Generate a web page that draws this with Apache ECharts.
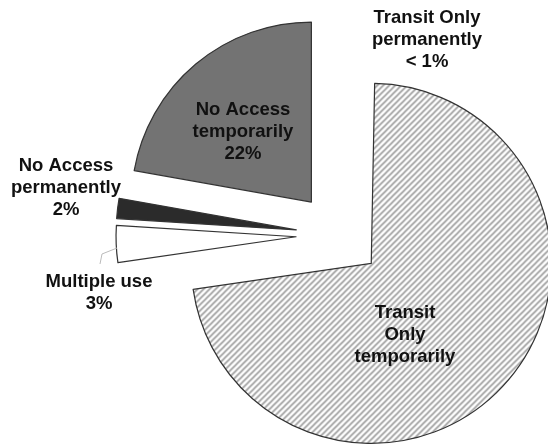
<!DOCTYPE html>
<html>
<head>
<meta charset="utf-8">
<script src="https://cdn.jsdelivr.net/npm/echarts@6/dist/echarts.min.js"></script>
<style>
  html, body { margin: 0; padding: 0; background: #fff; }
  #chart { width: 548px; height: 445px; }
</style>
</head>
<body>
<div id="chart"></div>
<script>
// slices, clockwise from 12 o'clock
const categories = ['Transit Only permanently', 'Transit Only temporarily', 'Multiple use', 'No Access permanently', 'No Access temporarily'];
const values = [0.3, 72.4, 3.3, 1.8, 22.2];
const labelTexts = [
  'Transit Only\npermanently\n< 1%',
  'Transit\nOnly\ntemporarily',
  'Multiple use\n3%',
  'No Access\npermanently\n2%',
  'No Access\ntemporarily\n22%'
];

// hatch pattern for the big slice
function hatch() {
  const c = document.createElement('canvas');
  c.width = 6; c.height = 6;
  const ctx = c.getContext('2d');
  ctx.fillStyle = '#fff';
  ctx.fillRect(0, 0, 6, 6);
  ctx.strokeStyle = '#9c9c9c';
  ctx.lineWidth = 1.6;
  ctx.beginPath();
  ctx.moveTo(0, 6); ctx.lineTo(6, 0);
  ctx.moveTo(-1, 1); ctx.lineTo(1, -1);
  ctx.moveTo(5, 7); ctx.lineTo(7, 5);
  ctx.stroke();
  return c;
}

const styles = [
  { color: 'rgba(0,0,0,0)', borderWidth: 0 },
  { color: { image: hatch(), repeat: 'repeat' } },
  { color: '#ffffff' },
  { color: '#2b2b2b' },
  { color: '#737373' }
];
// label centres (px)
const labelPos = [[427, 40], [405, 335], [99, 293], [66, 188], [243, 132]];

const myChart = echarts.init(document.getElementById('chart'));
myChart.setOption({
  animation: false,
  graphic: labelTexts.map((t, i) => ({
    type: 'text',
    x: labelPos[i][0],
    y: labelPos[i][1],
    z: 100,
    style: {
      text: t,
      fontFamily: 'Liberation Sans, Arial, sans-serif',
      fontWeight: 'bold',
      fontSize: 18.5,
      lineHeight: 22,
      fill: '#111',
      align: 'center',
      verticalAlign: 'middle'
    }
  })).concat([{
    // leader line for "Multiple use"
    type: 'polyline',
    z: 100,
    shape: { points: [[117, 248], [102, 254], [100, 264]] },
    style: { stroke: '#bbb', lineWidth: 1, fill: null }
  }]),
  series: [
    {
      type: 'pie',
      center: [339, 235],
      radius: 180,
      startAngle: 90,
      clockwise: true,
      selectedMode: 'multiple',
      selectedOffset: 43,
      itemStyle: { borderColor: '#333', borderWidth: 1.2 },
      label: { show: false },
      labelLine: { show: false },
      emphasis: { disabled: true },
      data: categories.map((name, i) => ({
        name: name,
        value: values[i],
        selected: true,
        itemStyle: styles[i]
      }))
    }
  ]
});
</script>
</body>
</html>
